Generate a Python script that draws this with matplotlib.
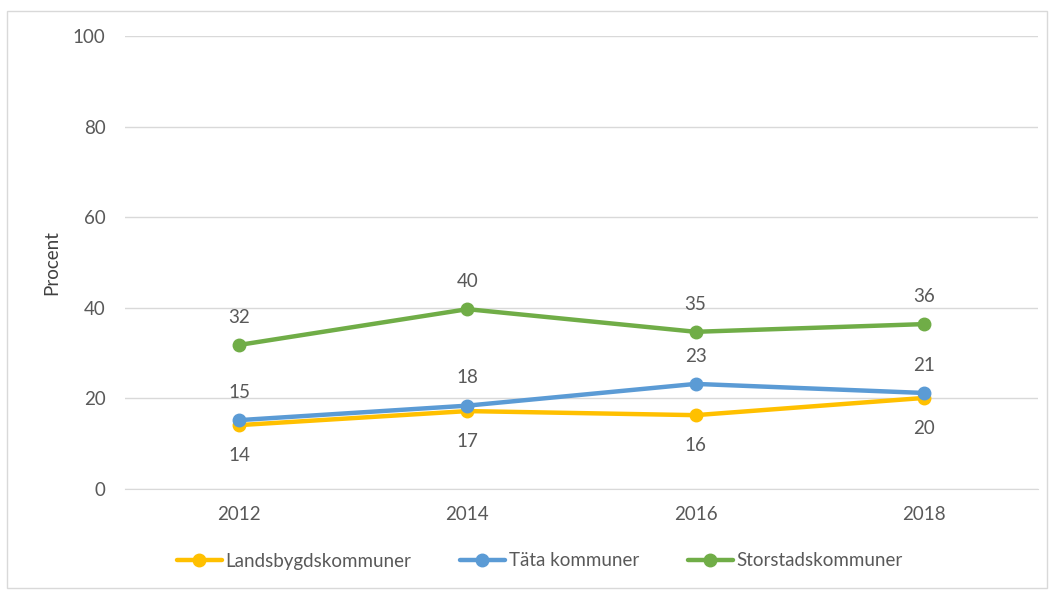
import matplotlib.pyplot as plt
from matplotlib.patches import Rectangle

plt.rcParams['font.family'] = ['Lato', 'DejaVu Sans']

years = ['2012', '2014', '2016', '2018']
series_names = ['Landsbygdskommuner', 'Täta kommuner', 'Storstadskommuner']
landsbygd = [14.1, 17.2, 16.3, 20.1]
tata = [15.2, 18.4, 23.2, 21.2]
storstad = [31.8, 39.7, 34.7, 36.4]
y_ticks = [0, 20, 40, 60, 80, 100]

colors = ['#FFC000', '#5B9BD5', '#70AD47']
label_offsets = [-22, 20, 20]  # points; yellow below, others above
text_col = '#595959'
fs = 13.5

fig = plt.figure(figsize=(10.52, 5.9), dpi=100)
ax = fig.add_axes([125 / 1052, 1 - 489 / 590, (1038 - 125) / 1052, (489 - 36) / 590])

x = range(len(years))
for vals, name, col, off in zip([landsbygd, tata, storstad], series_names, colors, label_offsets):
    ax.plot(x, vals, color=col, linewidth=3.2, marker='o', markersize=9,
            label=name, solid_capstyle='round', zorder=3)
    for xi, v in zip(x, vals):
        ax.annotate(f'{v:.0f}', (xi, v), textcoords='offset points', xytext=(0, off),
                    ha='center', va='center', fontsize=fs, color=text_col)

ax.set_xlim(-0.5, len(years) - 0.5)
ax.set_ylim(0, 100)
ax.set_yticks(y_ticks)
ax.set_xticks(list(x))
ax.set_xticklabels(years)
ax.tick_params(axis='both', length=0, labelsize=fs, labelcolor=text_col, pad=14)
ax.tick_params(axis='x', pad=12)
ax.grid(axis='y', color='#D9D9D9', linewidth=1)
ax.set_axisbelow(True)
for s in ['top', 'right', 'left']:
    ax.spines[s].set_visible(False)
ax.spines['bottom'].set_color('#D9D9D9')
ax.set_ylabel('Procent', fontsize=fs, color='#404040', labelpad=9)

fig.legend(loc='center', bbox_to_anchor=(0.513, 1 - 561 / 590), ncol=3, frameon=False,
           fontsize=fs, labelcolor=text_col, handlelength=2.4, columnspacing=2.6,
           handletextpad=0.2)

fig.patches.append(Rectangle((7 / 1052, 2 / 590), 1040 / 1052, 577 / 590,
                             transform=fig.transFigure, fill=False,
                             edgecolor='#D9D9D9', linewidth=1))

fig.savefig('out.png', dpi=100)
